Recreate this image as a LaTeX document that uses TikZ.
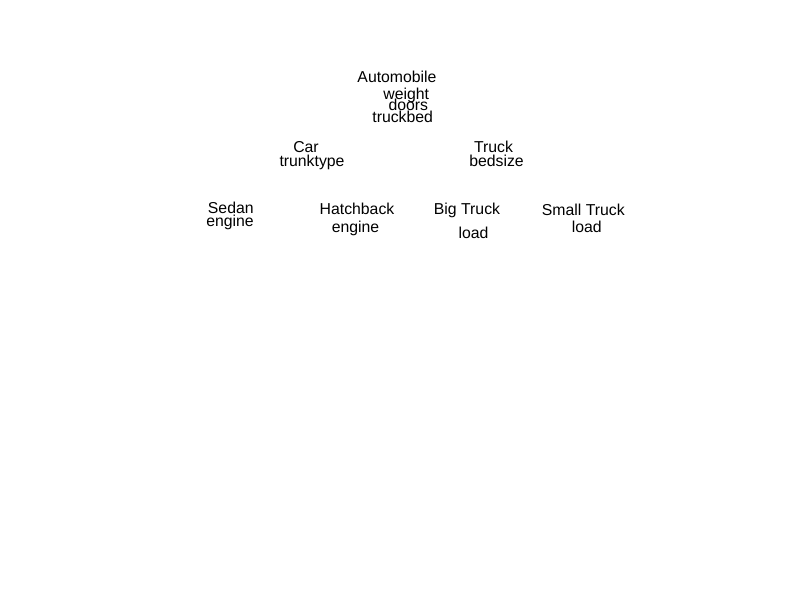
\documentclass[tikz,border=0pt]{standalone}
\usepackage{fontspec}
\setmainfont{Liberation Sans}
\begin{document}
\begin{tikzpicture}[x=1pt,y=-1pt,
  lbl/.style={anchor=base,inner sep=0pt,font=\fontsize{15.8}{16}\selectfont}]
\useasboundingbox (0,0) rectangle (800,600);
\node[lbl] (auto) at (397,82.5) {Automobile};
\node[lbl] (autoa) at (406.3,99.5) {weight};
\node[lbl] (autob) at (408.3,110.7) {doors};
\node[lbl] (autoc) at (402.7,122.7) {truckbed};
\node[lbl] (car) at (306,152.6) {Car};
\node[lbl] (cara) at (312,166) {trunktype};
\node[lbl] (truck) at (493.5,152.6) {Truck};
\node[lbl] (trucka) at (496.5,166) {bedsize};
\node[lbl] (sedan) at (230.8,213.3) {Sedan};
\node[lbl] (sedana) at (230,226.5) {engine};
\node[lbl] (hatch) at (357,214) {Hatchback};
\node[lbl] (hatcha) at (355.5,232.5) {engine};
\node[lbl] (big) at (467,214.5) {Big Truck};
\node[lbl] (biga) at (473.5,238.3) {load};
\node[lbl] (small) at (583.3,215) {Small Truck};
\node[lbl] (smalla) at (586.7,232.3) {load};
\end{tikzpicture}
\end{document}
